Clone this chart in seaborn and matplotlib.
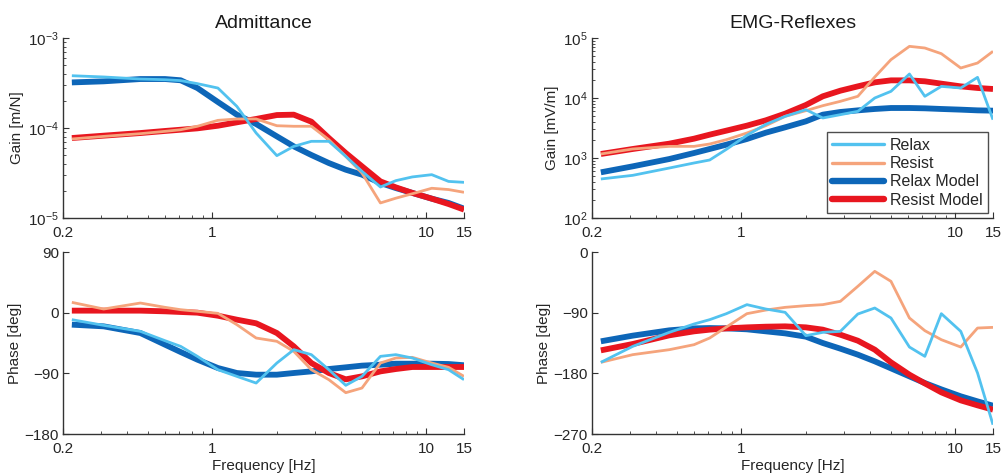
import numpy as np
import pandas as pd
import matplotlib
matplotlib.use("Agg")
import matplotlib.pyplot as plt
import matplotlib.ticker as mticker
from matplotlib.lines import Line2D
import seaborn as sns

# ---------------- data ----------------
freq = [0.22, 0.31, 0.46, 0.6, 0.71, 0.85, 1.06, 1.3, 1.6, 2.0, 2.4, 2.9,
        3.5, 4.2, 5.0, 6.1, 7.2, 8.6, 10.6, 12.7, 15.0]

adm_gain_relax = [3.81e-4, 3.69e-4, 3.50e-4, 3.44e-4, 3.36e-4, 3.11e-4, 2.78e-4,
                  1.74e-4, 8.8e-5, 4.93e-5, 6.25e-5, 7.11e-5, 7.11e-5, 4.84e-5,
                  3.30e-5, 2.21e-5, 2.60e-5, 2.86e-5, 3.03e-5, 2.55e-5, 2.49e-5]
adm_gain_resist = [7.55e-5, 8.07e-5, 8.65e-5, 9.18e-5, 9.57e-5, 1.045e-4, 1.216e-4,
                   1.26e-4, 1.26e-4, 1.06e-4, 1.045e-4, 1.045e-4, 7.41e-5, 4.84e-5,
                   3.16e-5, 1.47e-5, 1.66e-5, 1.86e-5, 2.14e-5, 2.07e-5, 1.93e-5]
adm_gain_relax_model = [3.21e-4, 3.30e-4, 3.50e-4, 3.50e-4, 3.39e-4, 2.78e-4, 1.945e-4,
                        1.406e-4, 1.107e-4, 8.07e-5, 6.25e-5, 5.01e-5, 4.08e-5, 3.44e-5,
                        3.03e-5, 2.45e-5, 2.15e-5, 1.90e-5, 1.64e-5, 1.47e-5, 1.27e-5]
adm_gain_resist_model = [7.74e-5, 8.22e-5, 8.79e-5, 9.27e-5, 9.57e-5, 9.91e-5, 1.06e-4,
                         1.156e-4, 1.26e-4, 1.393e-4, 1.406e-4, 1.175e-4, 7.74e-5, 5.27e-5,
                         3.75e-5, 2.55e-5, 2.19e-5, 1.90e-5, 1.64e-5, 1.43e-5, 1.24e-5]

adm_phase_relax = [-10.4, -18.8, -27.7, -41.6, -50.0, -64.8, -84.6, -94.5, -104.4, -74.7,
                   -54.9, -62.3, -84.6, -107.8, -94.5, -64.8, -62.3, -67.3, -77.2, -84.6, -99.4]
adm_phase_resist = [15.3, 5.4, 14.3, 7.9, 4.4, 2.0, -1.0, -17.8, -37.6, -42.5, -57.4,
                    -84.6, -99.4, -118.7, -111.8, -74.7, -67.3, -66.3, -74.7, -81.1, -94.5]
adm_phase_relax_model = [-17.8, -20.3, -30.2, -47.5, -58.4, -69.7, -82.1, -89.5, -92.0, -92.0,
                         -89.5, -87.1, -83.6, -81.1, -78.6, -77.2, -75.7, -75.7, -75.7, -76.2, -78.0]
adm_phase_resist_model = [3.0, 3.0, 3.0, 2.0, 1.0, 0.0, -4.5, -10.4, -15.8, -30.2, -50.0,
                          -74.7, -89.5, -98.9, -94.5, -87.1, -83.6, -80.6, -80.6, -80.6, -80.6]

emg_gain_relax = [447, 514, 681, 826, 926, 1394, 2387, 3641, 4943, 6394, 4642, 5275,
                  5995, 10000, 12910, 25120, 10670, 15630, 14690, 22090, 4355]
emg_gain_resist = [1167, 1413, 1563, 1563, 1711, 2021, 2610, 3459, 4943, 6152, 7447, 8799,
                   10670, 22390, 43550, 72610, 68130, 54800, 31620, 38300, 59950]
emg_gain_relax_model = [577, 726, 962, 1211, 1413, 1668, 2073, 2644, 3245, 4083, 5275, 5848,
                        6223, 6561, 6813, 6813, 6730, 6561, 6394, 6223, 6152]
emg_gain_resist_model = [1167, 1413, 1734, 2099, 2449, 2858, 3459, 4246, 5483, 7640, 10670,
                         13240, 15630, 18240, 19680, 19680, 18970, 17340, 15630, 14690, 14130]

emg_phase_relax = [-163.7, -140.0, -119.2, -106.8, -100.4, -91.5, -78.1, -84.6, -89.5, -124.1,
                   -119.2, -117.7, -92.0, -83.1, -97.9, -141.0, -154.8, -91.5, -117.7, -179.5, -256.2]
emg_phase_resist = [-163.7, -152.3, -144.9, -137.5, -127.6, -111.3, -91.5, -86.1, -82.1, -79.6,
                    -78.1, -73.2, -50.9, -28.7, -43.5, -97.9, -116.7, -130.1, -141.0, -112.8, -111.8]
emg_phase_relax_model = [-132.5, -124.1, -116.2, -113.3, -112.8, -113.3, -114.7, -117.7, -120.7,
                         -125.6, -135.0, -143.4, -152.3, -162.2, -172.6, -184.5, -194.4, -203.8,
                         -214.1, -221.6, -228.0]
emg_phase_resist_model = [-145.9, -136.5, -123.6, -117.7, -115.2, -113.3, -111.8, -110.8, -110.3,
                          -111.8, -115.2, -122.7, -131.6, -144.9, -163.7, -182.0, -194.9, -208.2,
                          -220.1, -227.5, -233.9]

series_names = ["Relax", "Resist", "Relax Model", "Resist Model"]
x_ticks = [0.2, 1, 10, 15]
x_tick_labels = ["0.2", "1", "10", "15"]

# ---------------- style ----------------
sns.set_theme(style="ticks")
plt.rcParams["font.family"] = ["Liberation Sans", "DejaVu Sans"]
plt.rcParams["mathtext.fontset"] = "custom"
plt.rcParams["mathtext.rm"] = "Liberation Sans"
plt.rcParams["mathtext.it"] = "Liberation Sans:italic"
plt.rcParams["xtick.direction"] = "in"
plt.rcParams["ytick.direction"] = "in"

colors = {"Relax": "#52c2ef", "Resist": "#f5a47c",
          "Relax Model": "#0d66b8", "Resist Model": "#e8161f"}
widths = {"Relax": 2.0, "Resist": 2.0, "Relax Model": 4.2, "Resist Model": 4.2}
zorders = {"Relax": 4, "Resist": 3, "Relax Model": 2, "Resist Model": 2.5}

fig = plt.figure(figsize=(10.05, 4.74), dpi=100)
W, H = 1005, 474


def add_ax(x0, y0, x1, y1):
    return fig.add_axes([x0 / W, 1 - y1 / H, (x1 - x0) / W, (y1 - y0) / H])


ax_ag = add_ax(63, 38, 464, 218)
ax_ap = add_ax(63, 252, 464, 434)
ax_eg = add_ax(592, 38, 993, 218)
ax_ep = add_ax(592, 252, 993, 434)

panels = [
    (ax_ag, [adm_gain_relax, adm_gain_resist, adm_gain_relax_model, adm_gain_resist_model]),
    (ax_ap, [adm_phase_relax, adm_phase_resist, adm_phase_relax_model, adm_phase_resist_model]),
    (ax_eg, [emg_gain_relax, emg_gain_resist, emg_gain_relax_model, emg_gain_resist_model]),
    (ax_ep, [emg_phase_relax, emg_phase_resist, emg_phase_relax_model, emg_phase_resist_model]),
]

for ax, vals in panels:
    for name, v in zip(series_names, vals):
        df = pd.DataFrame({"f": freq, "v": v})
        sns.lineplot(data=df, x="f", y="v", ax=ax, color=colors[name],
                     linewidth=widths[name], sort=False, estimator=None,
                     zorder=zorders[name], solid_joinstyle="round",
                     solid_capstyle="butt")
    ax.set_xscale("log")
    ax.set_xlim(0.2, 15)
    ax.set_xticks(x_ticks)
    ax.set_xticklabels(x_tick_labels)
    ax.xaxis.set_minor_locator(mticker.LogLocator(base=10, subs=np.arange(2, 10) * 0.1, numticks=20))
    ax.xaxis.set_minor_formatter(mticker.NullFormatter())
    ax.set_xlabel("")
    ax.set_ylabel("")
    for s in ["top", "right"]:
        ax.spines[s].set_visible(False)
    for s in ["left", "bottom"]:
        ax.spines[s].set_color("#333333")
        ax.spines[s].set_linewidth(1.0)
    ax.tick_params(axis="both", which="major", labelsize=11, colors="#333333",
                   labelcolor="#262626", length=4, width=0.8)
    ax.tick_params(axis="x", which="major", pad=6)
    ax.tick_params(axis="y", which="major", pad=3)
    ax.tick_params(axis="both", which="minor", length=2.5, width=0.6, colors="#333333")

# gain axes
ax_ag.set_yscale("log")
ax_ag.set_ylim(1e-5, 1e-3)
ax_eg.set_yscale("log")
ax_eg.set_ylim(1e2, 1e5)
for ax in (ax_ag, ax_eg):
    ax.yaxis.set_major_locator(mticker.LogLocator(base=10, numticks=10))
    ax.yaxis.set_major_formatter(mticker.LogFormatterSciNotation())
    ax.yaxis.set_minor_locator(mticker.LogLocator(base=10, subs=np.arange(2, 10), numticks=20))
    ax.yaxis.set_minor_formatter(mticker.NullFormatter())

# phase axes
ax_ap.set_ylim(-180, 90)
ax_ap.set_yticks([-180, -90, 0, 90])
ax_ep.set_ylim(-270, 0)
ax_ep.set_yticks([-270, -180, -90, 0])

# lift the lowest y tick labels very slightly so they clear the x tick labels
fig.canvas.draw()
for ax in (ax_ag, ax_ap, ax_eg, ax_ep):
    labels = ax.get_yticklabels()
    if labels:
        labels[0].set_verticalalignment("center_baseline")

lab_kw = dict(fontsize=11, color="#262626")
ax_ag.set_ylabel("Gain [m/N]", labelpad=3, **lab_kw)
ax_ap.set_ylabel("Phase [deg]", labelpad=2, **lab_kw)
ax_eg.set_ylabel("Gain [mV/m]", labelpad=3, **lab_kw)
ax_ep.set_ylabel("Phase [deg]", labelpad=2, **lab_kw)
ax_ap.set_xlabel("Frequency [Hz]", labelpad=2, **lab_kw)
ax_ep.set_xlabel("Frequency [Hz]", labelpad=2, **lab_kw)

ax_ag.set_title("Admittance", fontsize=14, color="#1a1a1a", pad=7)
ax_eg.set_title("EMG-Reflexes", fontsize=14, color="#1a1a1a", pad=7)

handles = [Line2D([0], [0], color=colors[n], linewidth=widths[n] + 0.4) for n in series_names]
leg = ax_eg.legend(handles, series_names, loc="lower right", fontsize=11.5,
                   frameon=True, fancybox=False, edgecolor="#222222",
                   borderaxespad=0.3, handlelength=3.2, handletextpad=0.4,
                   labelspacing=0.2, borderpad=0.35)
leg.get_frame().set_linewidth(1.0)
leg.set_zorder(10)

fig.savefig("out.png", dpi=100)
